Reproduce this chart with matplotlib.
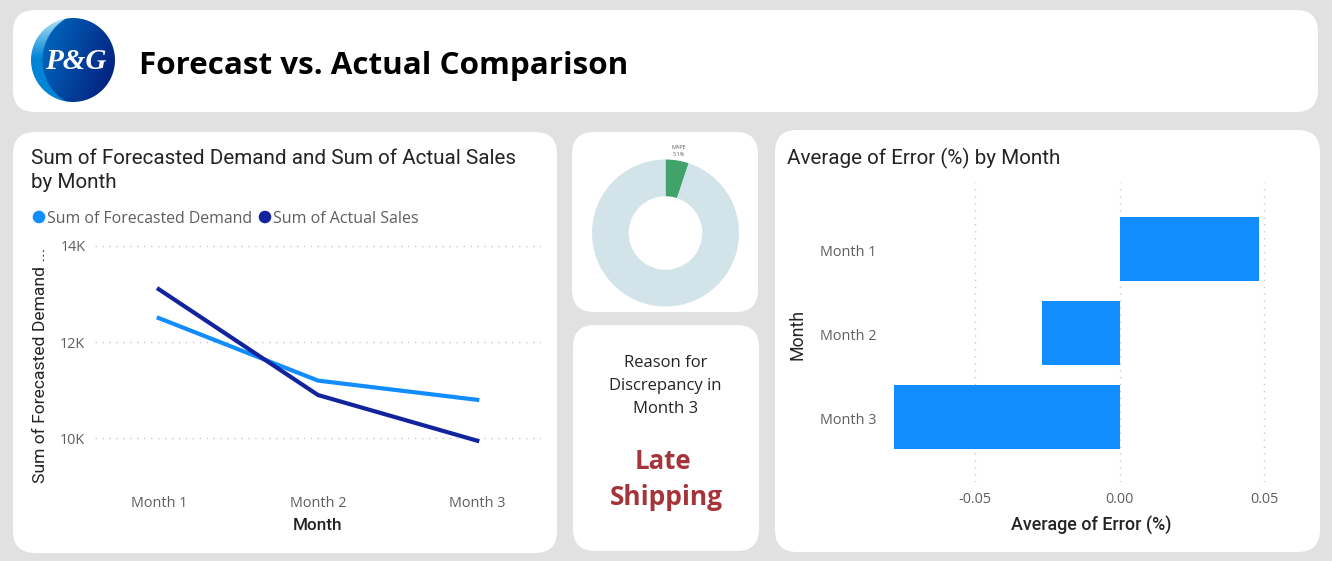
"""
Forecast vs. Actual dashboard panel
"""
import numpy as np
import matplotlib
matplotlib.use('Agg')
import matplotlib.pyplot as plt
from matplotlib.patches import FancyBboxPatch, Circle
from matplotlib.transforms import ScaledTranslation

W, H = 1332, 561

months = ['Month 1', 'Month 2', 'Month 3']
forecast = [12500, 11200, 10800]
actual = [13100, 10900, 9950]
error_pct = [0.048, -0.027, -0.078]
mape = 5.1

BLUE = '#118DFF'
NAVY = '#12239E'
GRID = '#C8C8C8'
TICK = '#605E5C'
TITLE_FONT = ['Roboto', 'DejaVu Sans']
BODY_FONT = ['Open Sans', 'DejaVu Sans']

plt.rcParams['font.family'] = BODY_FONT


def px_axes(x0, y0, x1, y1):
    """axes from pixel box, y counted from the top"""
    return fig.add_axes([x0 / W, 1 - y1 / H, (x1 - x0) / W, (y1 - y0) / H])


fig = plt.figure(figsize=(W / 100, H / 100), dpi=100, facecolor='#E1E1E1')

# Background layer in pixel coordinates
bg = fig.add_axes([0, 0, 1, 1])
bg.set_xlim(0, W)
bg.set_ylim(H, 0)
bg.axis('off')

panels = [(13, 10, 1318, 112), (13, 132, 557, 553), (572, 132, 758, 312),
          (573, 325, 759, 551), (775, 130, 1320, 552)]
for x0, y0, x1, y1 in panels:
    r = 22
    bg.add_patch(FancyBboxPatch((x0 + r, y0 + r), x1 - x0 - 2 * r, y1 - y0 - 2 * r,
                                boxstyle=f'round,pad={r},rounding_size={r}',
                                fc='white', ec='none'))

# Logo: blue gradient disc with a lighter crescent on the left
cx, cy, rad = 73, 60, 42
yy, xx = np.mgrid[-1:1:200j, -1:1:200j]
d_inner = np.hypot(xx - 0.43, yy)
shade = np.clip((xx + 0.7) / 1.7 * 0.7 + (yy + 1) / 2 * 0.3, 0, 1)
c0 = np.array([0.0, 0.42, 0.76])
c1 = np.array([0.02, 0.10, 0.47])
l0 = np.array([0.66, 0.87, 0.96])
l1 = np.array([0.0, 0.52, 0.84])
img = c0 + (c1 - c0) * shade[..., None]
t = np.clip((yy + 0.95) / 0.9, 0, 1)[..., None]
crescent = l0 + (l1 - l0) * t
img = np.where((d_inner > 1.16)[..., None], crescent, img)
im = bg.imshow(img, extent=(cx - rad, cx + rad, cy + rad, cy - rad), zorder=3,
               interpolation='bilinear', aspect='auto')
im.set_clip_path(Circle((cx, cy), rad, transform=bg.transData))
bg.set_xlim(0, W)
bg.set_ylim(H, 0)
bg.text(cx + 3, cy + 1, 'P&G', color='white', fontsize=21, fontweight='bold', style='italic',
        family=['Liberation Serif'], ha='center', va='center', zorder=4)

bg.text(139, 66, 'Forecast vs. Actual Comparison', fontsize=22.6, fontweight='bold',
        color='black', va='center', family=['Open Sans'])

# Left panel titles and legend
bg.text(31, 158, 'Sum of Forecasted Demand and Sum of Actual Sales', fontsize=14.85, color='#252423',
        va='center', family=TITLE_FONT)
bg.text(31, 182, 'by Month', fontsize=14.85, color='#252423', va='center', family=TITLE_FONT)
bg.add_patch(Circle((39, 217), 6.3, fc=BLUE, ec='none'))
bg.text(47, 219, 'Sum of Forecasted Demand', fontsize=11.4, color=TICK, va='center')
bg.add_patch(Circle((265, 217), 6.3, fc=NAVY, ec='none'))
bg.text(273, 219, 'Sum of Actual Sales', fontsize=11.5, color=TICK, va='center')

# Line chart
ax1 = px_axes(95, 230, 541, 485)
x = np.arange(len(months))
ax1.plot(x, forecast, color=BLUE, lw=3, label='Sum of Forecasted Demand')
ax1.plot(x, actual, color=NAVY, lw=3, label='Sum of Actual Sales')
ax1.set_xlim(-0.4, 2.4)
ax1.set_ylim(9030, 14330)
ax1.set_yticks([10000, 12000, 14000])
ax1.set_yticklabels(['10K', '12K', '14K'])
ax1.set_xticks(x)
ax1.set_xticklabels(months)
ax1.grid(axis='y', color=GRID, ls=(0, (1, 4)), lw=1)
ax1.tick_params(length=0, labelsize=10.4, labelcolor=TICK)
ax1.tick_params(axis='x', pad=8)
ax1.tick_params(axis='y', pad=7)
for s in ax1.spines.values():
    s.set_visible(False)
ax1.set_facecolor('none')
ax1.set_xlabel('Month', fontsize=12.3, color='#252423', labelpad=5, family=TITLE_FONT, fontweight='medium')
bg.text(41, 365, 'Sum of Forecasted Demand ...', fontsize=12.6, color='#252423', rotation=90,
        ha='center', va='center', family=TITLE_FONT)

# Donut
ax2 = px_axes(665.5 - 73.5, 233 - 73.5, 665.5 + 73.5, 233 + 73.5)
ax2.pie([mape, 100 - mape], colors=['#41A36A', '#D2E4EA'], startangle=90, counterclock=False,
        radius=1.0, wedgeprops=dict(width=0.5, linewidth=0))
ax2.set_xlim(-1, 1)
ax2.set_ylim(-1, 1)
bg.text(678.5, 147.5, 'MAPE', fontsize=4, color=TICK, ha='center', va='center')
bg.text(678.5, 154.5, f'{mape}%', fontsize=4, color=TICK, ha='center', va='center')

# Reason card
for i, line in enumerate(['Reason for', 'Discrepancy in', 'Month 3']):
    bg.text(665.5, 363 + i * 23, line, fontsize=12, color='#252423', ha='center', va='center')
bg.text(663, 461.5, 'Late', fontsize=18.5, fontweight='bold', color='#A4343A', ha='center', va='center')
bg.text(666.5, 497.5, 'Shipping', fontsize=19, fontweight='bold', color='#A4343A', ha='center', va='center')

# Bar chart
bg.text(787, 158, 'Average of Error (%) by Month', fontsize=14.9, color='#252423', va='center', family=TITLE_FONT)
ax3 = px_axes(889, 183, 1294, 482)
y = np.arange(len(months))
ax3.barh(y, error_pct, height=0.762, color=BLUE)
ax3.set_yticks(y)
ax3.set_yticklabels(months)
ax3.set_ylim(2 + (482 - 417) / 84, -(249 - 183) / 84)
ax3.set_xlim(-0.0797, 0.0602)
ax3.set_xticks([-0.05, 0, 0.05])
ax3.set_xticklabels(['-0.05', '0.00', '0.05'])
ax3.grid(axis='x', color=GRID, ls=(0, (1, 4)), lw=1)
ax3.set_axisbelow(True)
ax3.tick_params(length=0, labelsize=10.4, labelcolor=TICK)
ax3.tick_params(axis='y', pad=9)
ax3.tick_params(axis='x', pad=7)
for lbl in ax3.get_yticklabels():
    lbl.set_transform(lbl.get_transform() + ScaledTranslation(0, -2 / 100, fig.dpi_scale_trans))
for s in ax3.spines.values():
    s.set_visible(False)
ax3.set_facecolor('none')
ax3.set_xlabel('Average of Error (%)', fontsize=12.9, color='#252423', labelpad=7, family=TITLE_FONT, fontweight='medium')
bg.text(798, 334, 'Month', fontsize=12.8, color='#252423', rotation=90, ha='center', va='center', family=TITLE_FONT)

fig.savefig('out.png', dpi=100, facecolor=fig.get_facecolor())
